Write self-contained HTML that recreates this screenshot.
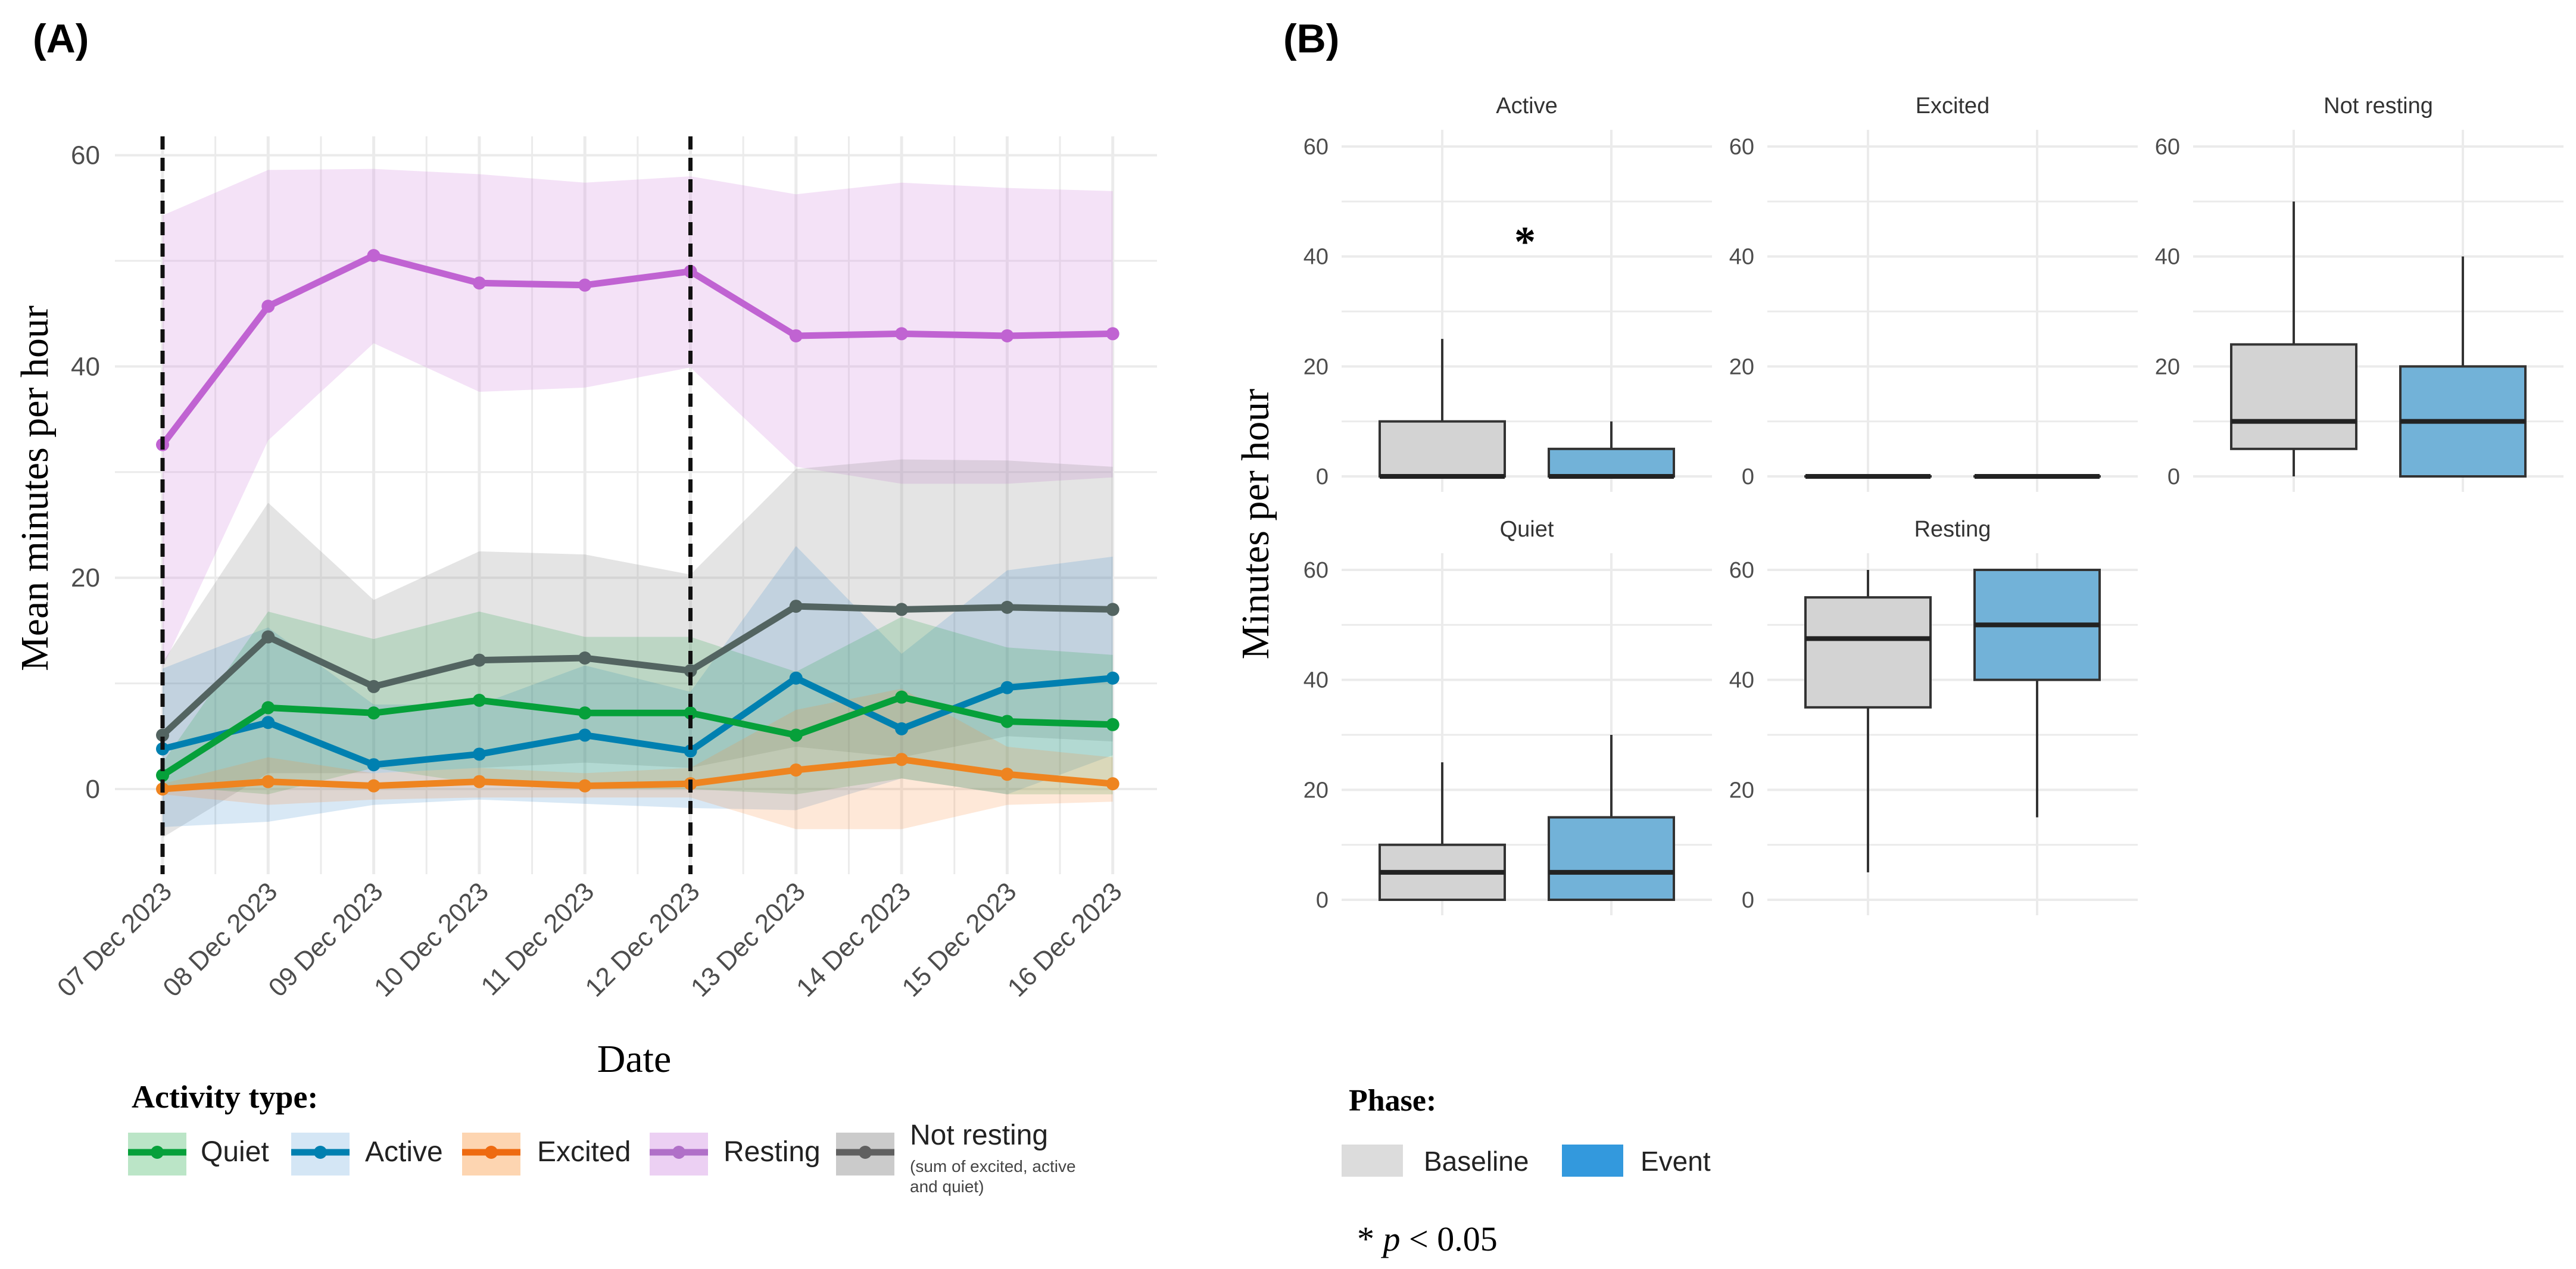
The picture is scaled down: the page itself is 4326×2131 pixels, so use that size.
<!DOCTYPE html>
<html><head><meta charset="utf-8">
<style>
html,body{margin:0;padding:0;background:#fff;}
svg{display:block;}
.sans{font-family:"Liberation Sans",sans-serif;}
.serif{font-family:"Liberation Serif",serif;}
</style></head>
<body>
<svg id="fig" width="4326" height="2131" viewBox="0 0 4326 2131" xmlns="http://www.w3.org/2000/svg">
  <text x="55" y="88" class="sans" font-size="68" font-weight="bold">(A)</text>
  <text x="2155" y="88" class="sans" font-size="68" font-weight="bold">(B)</text>
  <g id="panelA"></g>
  <g id="panelB"></g>
</svg>
<script>
// ---------- Panel A data ----------
const dates = ["07 Dec 2023","08 Dec 2023","09 Dec 2023","10 Dec 2023","11 Dec 2023","12 Dec 2023","13 Dec 2023","14 Dec 2023","15 Dec 2023","16 Dec 2023"];
const yTicksA = [0,20,40,60];
const restingMean = [32.6,45.7,50.5,47.9,47.7,49.0,42.9,43.1,42.9,43.1];
const restingHi = [54.3,58.6,58.7,58.2,57.4,58.0,56.3,57.4,56.9,56.6];
const restingLo = [11.5,33.0,42.2,37.6,38.0,39.9,30.5,28.9,28.9,29.5];
const notRestMean = [5.1,14.4,9.7,12.2,12.4,11.2,17.3,17.0,17.2,17.0];
const notRestHi = [12,27.1,17.9,22.5,22.2,20.3,30.3,31.2,31.1,30.5];
const notRestLo = [-4.6,1.5,1.5,2,2.5,2,4,3,5,4.5];
const quietMean = [1.3,7.7,7.2,8.4,7.2,7.2,5.1,8.7,6.4,6.1];
const quietHi = [2.5,16.8,14.2,16.8,14.4,14.4,11.1,16.3,13.4,12.7];
const quietLo = [0.3,-0.5,2,0.5,0,0,-0.5,1,-0.5,-0.5];
const activeMean = [3.8,6.3,2.3,3.3,5.1,3.6,10.5,5.7,9.6,10.5];
const activeHi = [11.4,15.3,8,8,11.7,9.2,23.0,12.8,20.7,22.0];
const activeLo = [-3.6,-3.1,-1.5,-1.0,-1.4,-1.8,-2,1,-0.5,3.2];
const excitedMean = [0,0.7,0.3,0.7,0.3,0.5,1.8,2.8,1.4,0.5];
const excitedHi = [0.5,3,1.5,2,1.5,2,7.5,9.5,4,3];
const excitedLo = [-0.5,-1.5,-1,-0.8,-0.8,-0.8,-3.8,-3.8,-1.5,-1.2];
const eventDates = [0,5];

// ---------- Panel B data ----------
const facets = ["Active","Excited","Not resting","Quiet","Resting"];
const yTicksB = [0,20,40,60];
// [min, q1, median, q3, max]
const baselineStats = [[0,0,0,10,25],[0,0,0,0,0],[0,5,10,24,50],[0,0,5,10,25],[5,35,47.5,55,60]];
const eventStats = [[0,0,0,5,10],[0,0,0,0,0],[0,0,10,20,40],[0,0,5,15,30],[15,40,50,60,60]];

const NS="http://www.w3.org/2000/svg";
function mk(tag,attrs,parent){const e=document.createElementNS(NS,tag);for(const k in attrs)e.setAttribute(k,attrs[k]);parent.appendChild(e);return e;}

// ---------- Panel A ----------
const A=document.getElementById('panelA');
const xA=i=>273+177.3*i;
const yA=v=>1325-v*17.74;
for(let v=0;v<=60;v+=10){
  const g=mk('line',{x1:193,x2:1943,y1:yA(v),y2:yA(v),stroke:'#ebebeb','stroke-width':v%20===0?4:3},A);
  
  
}
for(let i=0;i<=dates.length-1;i+=0.5){
  const g=mk('line',{x1:xA(i),x2:xA(i),y1:229,y2:1468,stroke:'#ebebeb','stroke-width':Number.isInteger(i)?5:3},A);
  
  
}
yTicksA.forEach(v=>{
  const t=mk('text',{x:168,y:yA(v)+15,'text-anchor':'end','font-size':44,fill:'#4d4d4d',class:'sans'},A);
  t.textContent=v;
  
  
});
dates.forEach((d,i)=>{
  const x=xA(i)+18,y=1500;
  const t=mk('text',{x:x,y:y,'text-anchor':'end','font-size':44,fill:'#4d4d4d',class:'sans',transform:`rotate(-45 ${x} ${y})`},A);
  t.textContent=d;
  
  
});
function band(hi,lo,fill,name){
  let pts=hi.map((v,i)=>xA(i)+','+yA(v));
  for(let i=lo.length-1;i>=0;i--)pts.push(xA(i)+','+yA(lo[i]));
  const p=mk('polygon',{points:pts.join(' '),fill:fill},A);
  
  
}
function line(vals,color,name){
  const p=mk('polyline',{points:vals.map((v,i)=>xA(i)+','+yA(v)).join(' '),fill:'none',stroke:color,'stroke-width':11,'stroke-linejoin':'round'},A);
  
  
  vals.forEach((v,i)=>{
    const c=mk('circle',{cx:xA(i),cy:yA(v),r:11,fill:color},A);
    
    
  });
}
band(restingHi,restingLo,'rgba(214,150,226,0.28)','resting-ci-band');
band(notRestHi,notRestLo,'rgba(150,150,150,0.26)','not-resting-ci-band');
band(activeHi,activeLo,'rgba(40,130,200,0.18)','active-ci-band');
band(quietHi,quietLo,'rgba(30,160,70,0.2)','quiet-ci-band');
band(excitedHi,excitedLo,'rgba(250,140,60,0.2)','excited-ci-band');
line(excitedMean,'#ee8420','excited-line');
line(activeMean,'#0080b0','active-line');
line(quietMean,'#06a03a','quiet-line');
line(notRestMean,'#536461','not-resting-line');
line(restingMean,'#c063d2','resting-line');
eventDates.forEach(i=>{
  const l=mk('line',{x1:xA(i),x2:xA(i),y1:229,y2:1468,stroke:'#111','stroke-width':7,'stroke-dasharray':'22 14'},A);
  
  
});
let t=mk('text',{x:1065,y:1800,'text-anchor':'middle','font-size':66,class:'serif'},A);t.textContent='Date';

t=mk('text',{x:80,y:820,'text-anchor':'middle','font-size':66,class:'serif',transform:'rotate(-90 80 820)'},A);t.textContent='Mean minutes per hour';

t=mk('text',{x:221,y:1860,'font-size':54,'font-weight':'bold',class:'serif'},A);t.textContent='Activity type:';

const legA=[['Quiet','#06a03a','rgba(30,170,70,0.3)',215,337],['Active','#0080b0','rgba(60,140,210,0.22)',489,613],['Excited','#ee6a10','rgba(250,150,60,0.4)',776,902],['Resting','#b070c8','rgba(200,120,220,0.35)',1091,1215],['Not resting','#606060','rgba(140,140,140,0.45)',1404,1528]];
legA.forEach(([lab,c,f,kx,tx])=>{
  const g=mk('g',{},A);
  
  
  mk('rect',{x:kx,y:1902,width:98,height:72,fill:f},g);
  mk('line',{x1:kx,x2:kx+98,y1:1935,y2:1935,stroke:c,'stroke-width':11},g);
  mk('circle',{cx:kx+49,cy:1935,r:11,fill:c},g);
  const tt=mk('text',{x:tx,y:lab==='Not resting'?1922:1950,'font-size':48,class:'sans',fill:'#222'},g);tt.textContent=lab;
});
t=mk('text',{x:1528,y:1968,'font-size':28,class:'sans',fill:'#444'},A);t.textContent='(sum of excited, active';

t=mk('text',{x:1528,y:2002,'font-size':28,class:'sans',fill:'#444'},A);t.textContent='and quiet)';


// ---------- Panel B ----------
const B=document.getElementById('panelB');
const panelLeft=[2253,2968,3683,2253,2968];
const panelTop0=[246,246,246,957,957];
const pw=622, ph=554;
facets.forEach((f,k)=>{
  const L=panelLeft[k], top=panelTop0[k];
  const yB=v=>top+ph-v*ph/60;
  const g=mk('g',{},B);
  
  
  for(let v=0;v<=60;v+=10){
    mk('line',{x1:L,x2:L+pw,y1:yB(v),y2:yB(v),stroke:'#ebebeb','stroke-width':v%20===0?4:3},g);
  }
  const cx=[L+169,L+453];
  cx.forEach(x=>mk('line',{x1:x,x2:x,y1:top-28,y2:top+ph+26,stroke:'#ebebeb','stroke-width':4},g));
  yTicksB.forEach(v=>{
    const tt=mk('text',{x:L-22,y:yB(v)+13,'text-anchor':'end','font-size':38,fill:'#4d4d4d',class:'sans'},g);tt.textContent=v;
  });
  const st=mk('text',{x:L+311,y:top-56,'text-anchor':'middle','font-size':38,fill:'#333',class:'sans'},g);st.textContent=f;
  [[baselineStats[k],'#d3d3d3','baseline'],[eventStats[k],'#72b2d8','event']].forEach(([s,fill,nm],j)=>{
    const x=cx[j];
    const bx=mk('g',{},g);
    
    
    mk('line',{x1:x,x2:x,y1:yB(s[0]),y2:yB(s[4]),stroke:'#333','stroke-width':4},bx);
    mk('rect',{x:x-105,y:yB(s[3]),width:210,height:Math.max(yB(s[1])-yB(s[3]),0.1),fill:fill,stroke:'#333','stroke-width':4},bx);
    mk('line',{x1:x-105,x2:x+105,y1:yB(s[2]),y2:yB(s[2]),stroke:'#222','stroke-width':8},bx);
  });
});
t=mk('text',{x:2561,y:430,'text-anchor':'middle','font-size':72,'font-weight':'bold',class:'serif'},B);t.textContent='*';

t=mk('text',{x:2130,y:880,'text-anchor':'middle','font-size':66,class:'serif',transform:'rotate(-90 2130 880)'},B);t.textContent='Minutes per hour';

t=mk('text',{x:2265,y:1865,'font-size':52,'font-weight':'bold',class:'serif'},B);t.textContent='Phase:';

[['Baseline','#dcdcdc',2253,2391],['Event','#3399dd',2623,2755]].forEach(([lab,c,kx,tx])=>{
  const g=mk('g',{},B);
  
  
  mk('rect',{x:kx,y:1922,width:103,height:54,fill:c},g);
  const tt=mk('text',{x:tx,y:1966,'font-size':46,class:'sans',fill:'#222'},g);tt.textContent=lab;
});
t=mk('text',{x:2279,y:2100,'font-size':58,class:'serif'},B);
t.innerHTML='* <tspan font-style="italic">p</tspan> &lt; 0.05';

</script>
</body></html>
